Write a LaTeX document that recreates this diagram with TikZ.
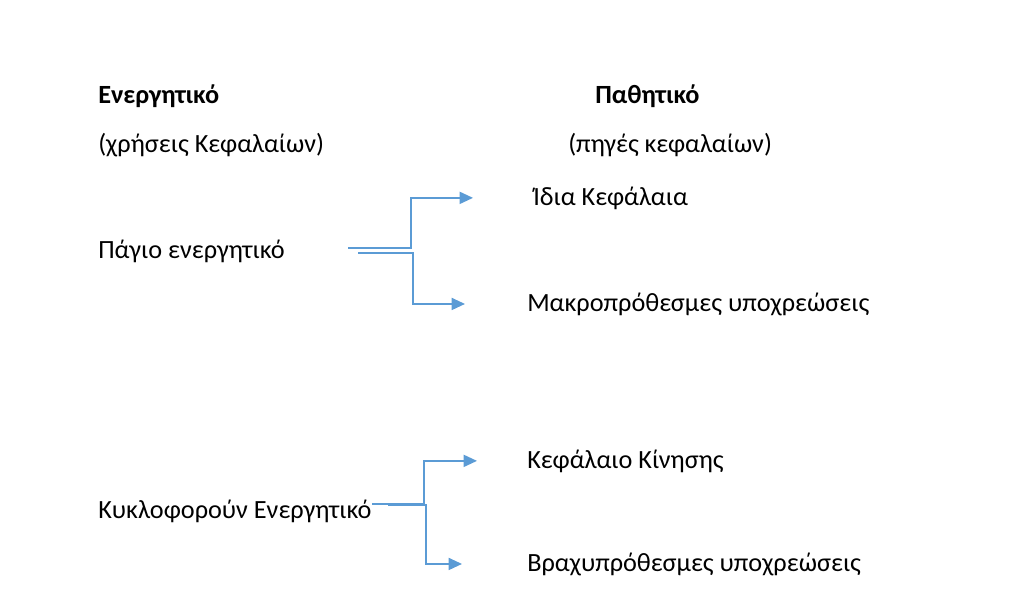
\documentclass[tikz,border=0pt]{standalone}
\usepackage{fontspec}
\setmainfont{Carlito}
\usetikzlibrary{arrows.meta,calc}
\definecolor{linkblue}{HTML}{5B9BD5}
\tikzset{
	label/.style={anchor=base west, inner sep=0pt, font=\fontsize{19.7}{22}\selectfont},
	headlabel/.style={label, font=\bfseries\fontsize{19.7}{22}\selectfont},
	link/.style={draw=linkblue, line width=1.3pt, -{Triangle[length=10pt, width=9pt]}},
}

\begin{document}
\begin{tikzpicture}[x=0.75pt, y=-0.75pt]
		%%%%% START %%%%%
		\useasboundingbox (0, 0) rectangle (1024, 594);
		
		\node[headlabel] (energ) at (98, 103) {Ενεργητικό};
		\node[label] (xriseis) at (98, 152) {(χρήσεις Κεφαλαίων)};
		\node[label] (pagio) at (98, 258) {Πάγιο ενεργητικό};
		\node[label] (kykl) at (98, 518) {Κυκλοφορούν Ενεργητικό};
		
		\node[headlabel] (path) at (595, 103) {Παθητικό};
		\node[label] (piges) at (568, 152) {(πηγές κεφαλαίων)};
		\node[label] (idia) at (533, 205) {Ίδια Κεφάλαια};
		\node[label] (makro) at (527, 311) {Μακροπρόθεσμες υποχρεώσεις};
		\node[label] (kinisi) at (527, 468) {Κεφάλαιο Κίνησης};
		\node[label] (vraxy) at (527, 571) {Βραχυπρόθεσμες υποχρεώσεις};
		
		% free ends of the arrows
		\coordinate (p1) at (348, 248);
		\coordinate (p2) at (358, 253);
		\coordinate (k1) at (372, 504);
		\coordinate (k2) at (388, 505);
		
		\draw[link] (p1) -- (411, 248) |- ($(idia.west)+(-60, 0)$);
		\draw[link] (p2) -- (413, 253) |- ($(makro.west)+(-62, 0)$);
		\draw[link] (k1) -- (424, 504) |- ($(kinisi.west)+(-50, 0)$);
		\draw[link] (k2) -- (426, 505) |- ($(vraxy.west)+(-65, 0)$);
		
		%%%%% END %%%%%
	\end{tikzpicture}
\end{document}
